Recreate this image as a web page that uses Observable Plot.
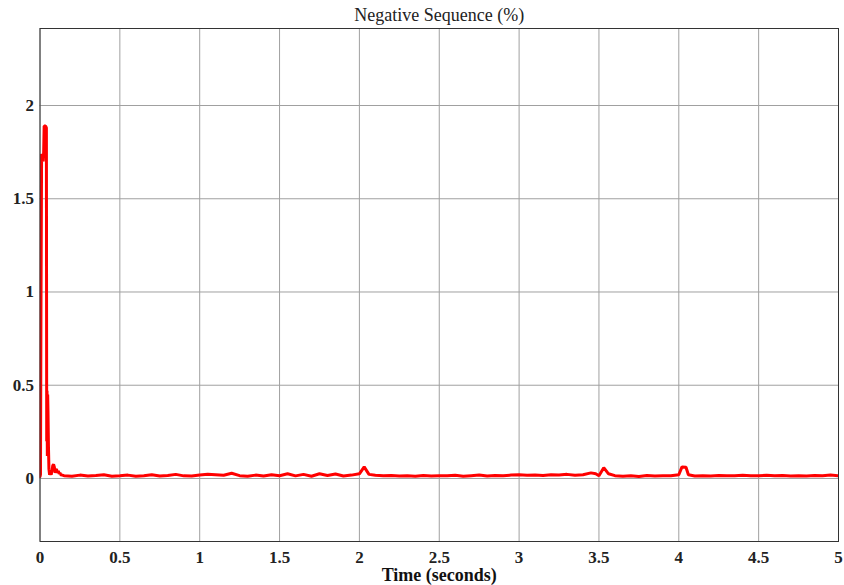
<!DOCTYPE html>
<html>
<head>
<meta charset="utf-8">
<script src="https://cdn.jsdelivr.net/npm/d3@7"></script>
<script src="https://cdn.jsdelivr.net/npm/@observablehq/plot@0.6"></script>
<style>
  html, body { margin: 0; padding: 0; background: #fff; }
  #chart svg { display: block; }
</style>
</head>
<body>
<div id="chart"></div>
<script>
const chartTitle = "Negative Sequence (%)";
const xLabel = "Time (seconds)";
const xTicks = [0, 0.5, 1, 1.5, 2, 2.5, 3, 3.5, 4, 4.5, 5];
const yTicks = [0, 0.5, 1, 1.5, 2];

const times = [
  0, 0.003, 0.006, 0.01, 0.015, 0.02, 0.023, 0.026, 0.03, 0.035, 0.04, 0.042, 0.044, 0.046, 0.048, 0.05,
  0.053, 0.056, 0.06, 0.065, 0.07, 0.075, 0.08, 0.085, 0.09, 0.095, 0.1, 0.105, 0.11, 0.115, 0.12, 0.125,
  0.13, 0.14,
  0.15, 0.2, 0.25, 0.3, 0.35, 0.4, 0.45, 0.5, 0.55, 0.6, 0.65, 0.7, 0.75, 0.8, 0.85, 0.9, 0.95,
  1.0, 1.05, 1.1, 1.15, 1.2, 1.25, 1.3, 1.35, 1.4, 1.45, 1.5, 1.55, 1.6, 1.65, 1.7, 1.75, 1.8, 1.85, 1.9, 1.95,
  2.0, 2.03, 2.06, 2.1, 2.15, 2.2, 2.25, 2.3, 2.35, 2.4, 2.45, 2.5, 2.55, 2.6, 2.65, 2.7, 2.75, 2.8, 2.85, 2.9, 2.95,
  3.0, 3.05, 3.1, 3.15, 3.2, 3.25, 3.3, 3.35, 3.4, 3.45, 3.48, 3.5, 3.53, 3.56, 3.6, 3.65, 3.7, 3.75, 3.8, 3.85, 3.9, 3.95,
  4.0, 4.02, 4.045, 4.06, 4.1, 4.15, 4.2, 4.25, 4.3, 4.35, 4.4, 4.45, 4.5, 4.55, 4.6, 4.65, 4.7, 4.75, 4.8, 4.85, 4.9, 4.95, 5.0
];
const negSeq = [
  0.01, 0.02, 0.9, 1.74, 1.73, 1.70, 1.75, 1.89, 1.89, 1.89, 1.88, 0.2, 0.47, 0.12, 0.45, 0.36,
  0.17, 0.05, 0.02, 0.03, 0.02, 0.04, 0.07, 0.075, 0.06, 0.03, 0.05, 0.045, 0.03, 0.04, 0.025, 0.03,
  0.02, 0.018,
  0.015, 0.012, 0.018, 0.013, 0.016, 0.02, 0.012, 0.014, 0.018, 0.012, 0.015, 0.02, 0.013, 0.016, 0.022, 0.014, 0.013,
  0.018, 0.022, 0.02, 0.017, 0.028, 0.015, 0.012, 0.018, 0.013, 0.02, 0.015, 0.025, 0.014, 0.022, 0.012, 0.025, 0.016, 0.024, 0.013, 0.018,
  0.025, 0.062, 0.022, 0.017, 0.014, 0.016, 0.013, 0.015, 0.012, 0.016, 0.013, 0.015, 0.014, 0.017, 0.012, 0.015, 0.018, 0.013, 0.016, 0.014, 0.018,
  0.02, 0.017, 0.019, 0.016, 0.02, 0.018, 0.022, 0.017, 0.02, 0.03, 0.025, 0.015, 0.058, 0.025, 0.015, 0.012, 0.014, 0.011, 0.016, 0.013, 0.015, 0.014,
  0.02, 0.062, 0.06, 0.02, 0.013, 0.015, 0.013, 0.016, 0.014, 0.015, 0.017, 0.014, 0.015, 0.017, 0.014, 0.016, 0.013, 0.015, 0.013, 0.016, 0.014, 0.018, 0.015
];

const data = times.map((t, i) => ({t, v: negSeq[i]}));
const fmt = d => String(d);

const chart = Plot.plot({
  width: 844,
  height: 585,
  marginLeft: 39.5,
  marginRight: 6,
  marginTop: 28,
  marginBottom: 44,
  style: {fontFamily: "'Liberation Serif', 'Times New Roman', serif", fontSize: "17px", background: "#fff", color: "#222"},
  x: {domain: [0, 5], ticks: xTicks},
  y: {domain: [-0.338, 2.413], ticks: yTicks},
  marks: [
    Plot.gridX(xTicks, {stroke: "#a0a0a0", strokeOpacity: 1}),
    Plot.gridY(yTicks, {stroke: "#a0a0a0", strokeOpacity: 1}),
    Plot.lineY(data, {x: "t", y: "v", stroke: "#ff0000", strokeWidth: 3, strokeLinejoin: "miter", clip: true}),
    Plot.frame({stroke: "#333", strokeWidth: 1}),
    Plot.axisX(xTicks, {tickSize: 0, tickPadding: 9, tickFormat: fmt, label: null, fontWeight: "bold", fontSize: 17}),
    Plot.axisY(yTicks, {tickSize: 0, tickPadding: 6, tickFormat: fmt, label: null, fontWeight: "bold", fontSize: 17}),
    Plot.text([chartTitle], {frameAnchor: "top", lineAnchor: "middle", dy: -13, fontSize: 18, fill: "#222"}),
    Plot.text([xLabel], {frameAnchor: "bottom", lineAnchor: "middle", dy: 34, fontSize: 18, fontWeight: "bold", fill: "#111"})
  ]
});
document.getElementById("chart").appendChild(chart);
</script>
</body>
</html>
